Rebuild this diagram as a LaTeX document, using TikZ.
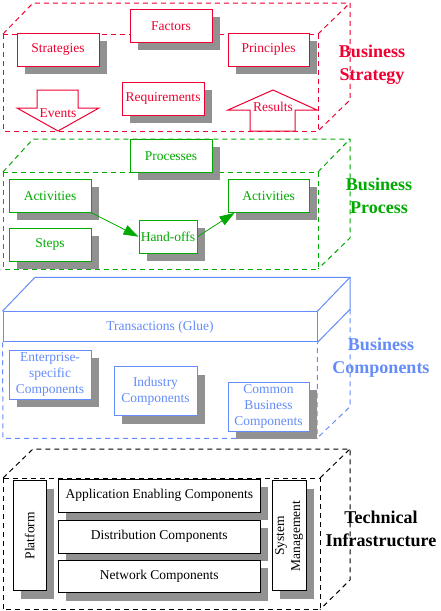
\documentclass[tikz,border=0pt]{standalone}
\usepackage{fontspec}
\setmainfont{Liberation Serif}
\usetikzlibrary{shadows,arrows.meta}

\definecolor{rouge}{RGB}{240,0,50}
\definecolor{vert}{RGB}{0,170,0}
\definecolor{bleu}{RGB}{100,140,250}
\definecolor{ombre}{RGB}{145,145,145}

\tikzset{
  boite/.style={draw, fill=white, line width=1pt, minimum width=82pt, minimum height=33pt,
    inner sep=1pt, align=center, font=\fontsize{13.5}{16}\selectfont,
    drop shadow={shadow xshift=8pt, shadow yshift=-8pt, fill=ombre, opacity=1}},
  texte/.style={font=\fontsize{13.5}{16}\selectfont, inner sep=0pt},
  titre/.style={font=\fontsize{18}{23}\selectfont\bfseries, align=center},
  tirets/.style={dash pattern=on 5pt off 4pt, line width=1pt},
}

\begin{document}
\begin{tikzpicture}[x=1pt, y=-1pt]
    % Cadre
    \fill[white] (0,0) rectangle (440,611);
    \useasboundingbox (0,0) rectangle (440,611);

    % Couche strategie
    \draw[rouge, tirets] (3,34) rectangle (318,131);
    \draw[rouge, tirets] (3,34) -- (33,3) -- (350,3) -- (350,100) -- (318,131);
    \draw[rouge, tirets] (318,34) -- (350,3);
    \node[titre, text=rouge] (strat) at (372,65) {Business\\Strategy};

    \node[boite, draw=rouge, text=rouge] (factors) at (171,25.8) {Factors};
    \node[boite, draw=rouge, text=rouge] (strategies) at (58,49.5) {Strategies};
    \node[boite, draw=rouge, text=rouge, minimum width=81pt] (principles) at (268.5,49.5) {Principles};
    \node[boite, draw=rouge, text=rouge] (requirements) at (163,98.5) {Requirements};

    % Fleches evenements / resultats
    \draw[rouge, line width=1pt, fill=white] (37,90) -- (78,90) -- (78,108) -- (99,108)
        -- (58,131) -- (17,108) -- (37,108) -- cycle;
    \node[texte, text=rouge] (events) at (58,113) {Events};
    \draw[rouge, line width=1pt, fill=white] (273,90) -- (317,110) -- (295,110) -- (295,131)
        -- (250,131) -- (250,110) -- (228,110) -- cycle;
    \node[texte, text=rouge] (results) at (273,107) {Results};

    % Couche processus
    \draw[vert, tirets] (3,172) rectangle (318,269);
    \draw[vert, tirets] (3,172) -- (33,139) -- (350,139) -- (350,238) -- (318,269);
    \draw[vert, tirets] (318,172) -- (350,139);
    \node[titre, text=vert] (proc) at (379,196) {Business\\Process};

    \node[boite, draw=vert, text=vert] (processes) at (171,155.8) {Processes};
    \node[boite, draw=vert, text=vert] (actL) at (50,195.8) {Activities};
    \node[boite, draw=vert, text=vert] (steps) at (50,244.8) {Steps};
    \node[boite, draw=vert, text=vert, minimum width=58pt] (hand) at (168,236.7) {Hand-offs};
    \node[boite, draw=vert, text=vert, minimum width=81pt] (actR) at (268.5,195.8) {Activities};

    \draw[vert, line width=0.8pt, -{Triangle[length=15pt,width=10pt]}] (actL.south east) -- (hand.west);
    \draw[vert, line width=0.8pt, -{Triangle[length=15pt,width=10pt]}] (hand.east) -- ([xshift=7pt]actR.south west);

    % Couche composants
    \node[draw=bleu, text=bleu, line width=1pt, minimum width=314pt, minimum height=30.3pt,
        texte] (trans) at (160,326.8) {Transactions (Glue)};
    \draw[bleu, line width=1pt] (trans.north west) -- (35,277.3) -- (350,277.3) -- (trans.north east);
    \draw[bleu, line width=1pt] (350,277.3) -- (350,309.3) -- (trans.south east);
    \draw[bleu, tirets] (trans.south west) -- (3,438.3) -- (317,438.3) -- (trans.south east);
    \draw[bleu, tirets] (350,309.3) -- (350,406.7) -- (317,438.3);
    \node[titre, text=bleu] (comp) at (381,357.5) {Business\\Components};

    \node[boite, draw=bleu, text=bleu, minimum height=49pt] (enterprise) at (50,374.8) {Enterprise-\\specific\\Components};
    \node[boite, draw=bleu, text=bleu, minimum width=83pt, minimum height=49pt] (industry) at (155.5,391.2) {Industry\\Components};
    \node[boite, draw=bleu, text=bleu, minimum width=81pt, minimum height=49pt] (common) at (268.5,406.8) {Common\\Business\\Components};

    % Couche infrastructure
    \draw[tirets] (3,478) rectangle (320,609.5);
    \draw[tirets] (3,478) -- (33,449) -- (350,449) -- (350,580) -- (320,609.5);
    \draw[tirets] (320,478) -- (350,449);
    \node[titre] (tech) at (381,528.5) {Technical\\Infrastructure};

    \node[boite, minimum width=32.7pt, minimum height=110.3pt] (platform) at (29.7,535.8) {\rotatebox{90}{Platform}};
    \node[boite, minimum width=202pt, minimum height=32.7pt] (app) at (159.3,495.7) {Application Enabling Components};
    \node[boite, minimum width=202pt, minimum height=33.3pt] (dist) at (159.3,536.7) {Distribution Components};
    \node[boite, minimum width=202pt, minimum height=32.3pt] (net) at (159.3,576.5) {Network Components};
    \node[boite, minimum width=32.7pt, minimum height=110.3pt] (sysman) at (289,535.8)
        {\rotatebox{90}{\begin{tabular}{@{}c@{}}System\\Management\end{tabular}}};
\end{tikzpicture}
\end{document}
